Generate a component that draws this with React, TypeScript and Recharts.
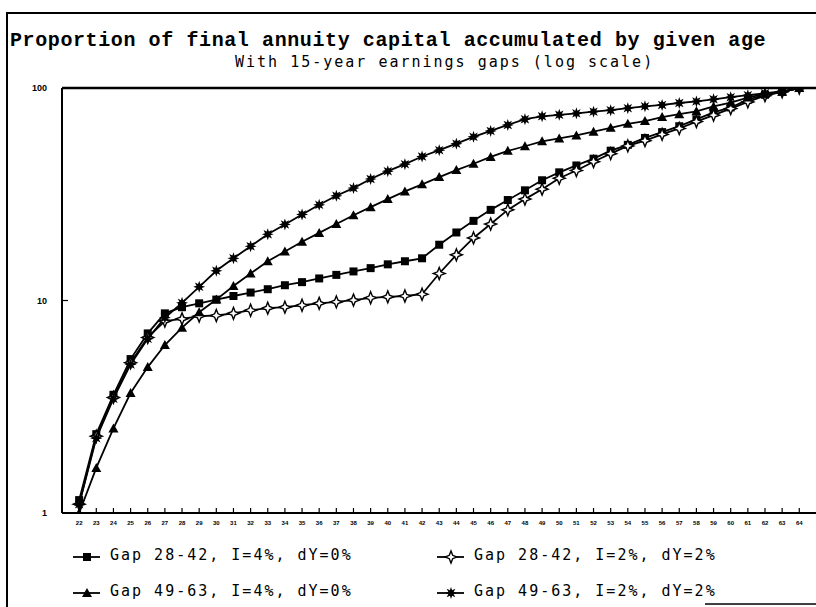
import { LineChart, Line, XAxis, YAxis, ReferenceLine } from "recharts";

// ages along the x axis (tick labels in the scan are too small to read)
const AGES = [
  22, 23, 24, 25, 26, 27, 28, 29, 30, 31, 32, 33, 34, 35, 36, 37, 38, 39, 40, 41, 42,
  43, 44, 45, 46, 47, 48, 49, 50, 51, 52, 53, 54, 55, 56, 57, 58, 59, 60, 61, 62, 63, 64,
];

// % of final annuity capital
const GAP_28_42_I4 = [
  1.15, 2.35, 3.6, 5.3, 7.0, 8.7, 9.3, 9.7, 10.1, 10.5, 10.9, 11.3, 11.8, 12.2, 12.7, 13.2,
  13.7, 14.2, 14.8, 15.3, 15.8, 18.3, 20.9, 23.7, 26.7, 29.7, 33.0, 36.8, 40.1, 43.2, 46.5,
  50.7, 54.0, 58.2, 62.0, 66.1, 71.2, 76.8, 81.0, 88.2, 92.9, 95.9, 100,
];
const GAP_28_42_I2 = [
  1.1, 2.3, 3.5, 5.1, 6.7, 8.0, 8.2, 8.45, 8.5, 8.7, 9.0, 9.2, 9.3, 9.5, 9.7, 9.85, 10.05,
  10.3, 10.4, 10.5, 10.7, 13.4, 16.4, 19.7, 22.9, 26.7, 30.0, 33.4, 37.6, 40.9, 45.0, 49.1,
  53.4, 56.5, 60.5, 64.5, 69.5, 74.5, 80.0, 86.0, 92.0, 95.9, 100,
];
const GAP_49_63_I4 = [
  1.0, 1.63, 2.5, 3.67, 4.86, 6.17, 7.45, 8.8, 10.1, 11.7, 13.4, 15.3, 17.0, 18.9, 20.8,
  22.9, 25.2, 27.5, 30.0, 32.6, 35.2, 38.1, 41.1, 44.0, 47.4, 50.6, 53.2, 56.1, 57.9, 59.8,
  62.3, 65.0, 67.8, 69.9, 73.0, 75.3, 77.7, 81.9, 85.4, 90.1, 93.9, 95.9, 100,
];
const GAP_49_63_I2 = [
  1.1, 2.25, 3.45, 5.0, 6.6, 8.3, 9.75, 11.6, 13.8, 15.8, 18.0, 20.5, 22.8, 25.4, 28.2,
  31.1, 33.8, 37.3, 40.6, 43.8, 47.6, 51.0, 54.7, 58.9, 62.8, 67.0, 71.3, 73.6, 74.8, 76.0,
  77.4, 78.6, 80.4, 82.0, 83.2, 85.0, 86.5, 88.5, 90.5, 92.5, 94.5, 96.5, 100,
];

const Y_TICKS = [1, 10, 100];

const SERIES = [
  { key: "a", label: "Gap 28-42, I=4%, dY=0%", marker: "square" },
  { key: "b", label: "Gap 28-42, I=2%, dY=2%", marker: "open" },
  { key: "c", label: "Gap 49-63, I=4%, dY=0%", marker: "triangle" },
  { key: "d", label: "Gap 49-63, I=2%, dY=2%", marker: "star" },
] as const;

const data = AGES.map((age, i) => ({
  age,
  a: GAP_28_42_I4[i],
  b: GAP_28_42_I2[i],
  c: GAP_49_63_I4[i],
  d: GAP_49_63_I2[i],
}));

function starPoints(cx: number, cy: number, n: number, ro: number, ri: number) {
  const pts: string[] = [];
  for (let k = 0; k < n * 2; k++) {
    const r = k % 2 === 0 ? ro : ri;
    const ang = (Math.PI * k) / n - Math.PI / 2;
    pts.push(`${cx + r * Math.cos(ang)},${cy + r * Math.sin(ang)}`);
  }
  return pts.join(" ");
}

function Marker({ type, cx, cy }: { type: string; cx: number; cy: number }) {
  if (type === "square") return <rect x={cx - 4} y={cy - 4} width={8} height={8} fill="#000" />;
  if (type === "triangle")
    return <polygon points={`${cx},${cy - 5} ${cx - 5},${cy + 4} ${cx + 5},${cy + 4}`} fill="#000" />;
  if (type === "open")
    return <polygon points={starPoints(cx, cy, 4, 6, 2.4)} fill="#fff" stroke="#000" strokeWidth={1.4} />;
  return <polygon points={starPoints(cx, cy, 8, 6, 2.9)} fill="#000" />;
}

const makeDot = (type: string) =>
  // eslint-disable-next-line @typescript-eslint/no-explicit-any
  function Dot(p: any) {
    if (p.cx == null || p.cy == null) return <g key={p.index} />;
    return (
      <g key={`${type}-${p.index}`}>
        <Marker type={type} cx={p.cx} cy={p.cy} />
      </g>
    );
  };

// eslint-disable-next-line @typescript-eslint/no-explicit-any
function AgeTick({ x, y, payload }: any) {
  return (
    <g>
      <line x1={x} x2={x} y1={y} y2={y - 5} stroke="#000" strokeWidth={1.2} />
      <text x={x} y={y + 12} textAnchor="middle" fontSize={6} fontWeight="bold" fontFamily="Liberation Sans" fill="#000">
        {payload.value}
      </text>
    </g>
  );
}

// eslint-disable-next-line @typescript-eslint/no-explicit-any
function PctTick({ x, y, payload }: any) {
  return (
    <g>
      {payload.value === 10 && <line x1={x} x2={x + 6} y1={y} y2={y} stroke="#000" strokeWidth={1.2} />}
      <text x={x - 15} y={y + 3} textAnchor="end" fontSize={9} fontWeight="bold" fontFamily="Liberation Sans" fill="#000">
        {payload.value}
      </text>
    </g>
  );
}

const legendFont = {
  fontFamily: "DejaVu Sans Mono",
  fontSize: 15,
  letterSpacing: 2,
} as const;

export default function App() {
  const legendPos = [
    { x: 73, y: 557 },
    { x: 437, y: 557 },
    { x: 73, y: 593 },
    { x: 437, y: 593 },
  ];

  return (
    <div
      style={{
        position: "absolute",
        left: 0,
        top: 0,
        width: 816,
        height: 607,
        overflow: "hidden",
        background: "#fff",
      }}
    >
      {/* scanned page frame */}
      <div
        style={{
          position: "absolute",
          left: 6,
          top: 12,
          width: 830,
          height: 620,
          borderLeft: "2px solid #000",
          borderTop: "2px solid #000",
        }}
      />
      <div
        style={{
          position: "absolute",
          left: 10,
          top: 29,
          fontFamily: "Liberation Mono",
          fontWeight: "bold",
          fontSize: 20,
          letterSpacing: 0.6,
          whiteSpace: "nowrap",
        }}
      >
        Proportion of final annuity capital accumulated by given age
      </div>
      <div
        style={{
          position: "absolute",
          left: 235,
          top: 53,
          fontFamily: "DejaVu Sans Mono",
          fontSize: 15,
          letterSpacing: 2,
          whiteSpace: "nowrap",
        }}
      >
        With 15-year earnings gaps (log scale)
      </div>

      <div style={{ position: "absolute", left: 0, top: 0 }}>
        <LineChart width={860} height={607} data={data} margin={{ top: 88, right: 35, bottom: 64, left: 22 }}>
          <XAxis
            dataKey="age"
            type="number"
            domain={[21, 65.5]}
            ticks={AGES}
            interval={0}
            height={30}
            tickSize={0}
            tickMargin={0}
            tickLine={false}
            tick={<AgeTick />}
            axisLine={{ stroke: "#000", strokeWidth: 2 }}
            allowDataOverflow
          />
          <YAxis
            type="number"
            scale="log"
            domain={[1, 100]}
            ticks={Y_TICKS}
            width={40}
            tickSize={0}
            tickMargin={0}
            tickLine={false}
            tick={<PctTick />}
            axisLine={{ stroke: "#000", strokeWidth: 2 }}
            allowDataOverflow
          />
          <ReferenceLine y={100} stroke="#000" strokeWidth={2.5} />
          {SERIES.map((s) => (
            <Line
              key={s.key}
              type="linear"
              dataKey={s.key}
              stroke="#000"
              strokeWidth={1.8}
              dot={makeDot(s.marker)}
              activeDot={false}
              isAnimationActive={false}
            />
          ))}
        </LineChart>
      </div>

      <svg
        width={816}
        height={607}
        style={{ position: "absolute", left: 0, top: 0, pointerEvents: "none" }}
      >
        {SERIES.map((s, i) => {
          const p = legendPos[i];
          return (
            <g key={s.key}>
              <line x1={p.x} x2={p.x + 27} y1={p.y} y2={p.y} stroke="#000" strokeWidth={1.8} />
              <Marker type={s.marker} cx={p.x + 14} cy={p.y} />
              <text x={p.x + 37} y={p.y + 3} {...legendFont} fill="#000">
                {s.label}
              </text>
            </g>
          );
        })}
        <line x1={705} x2={816} y1={604} y2={604} stroke="#000" strokeWidth={1.5} />
      </svg>
    </div>
  );
}
